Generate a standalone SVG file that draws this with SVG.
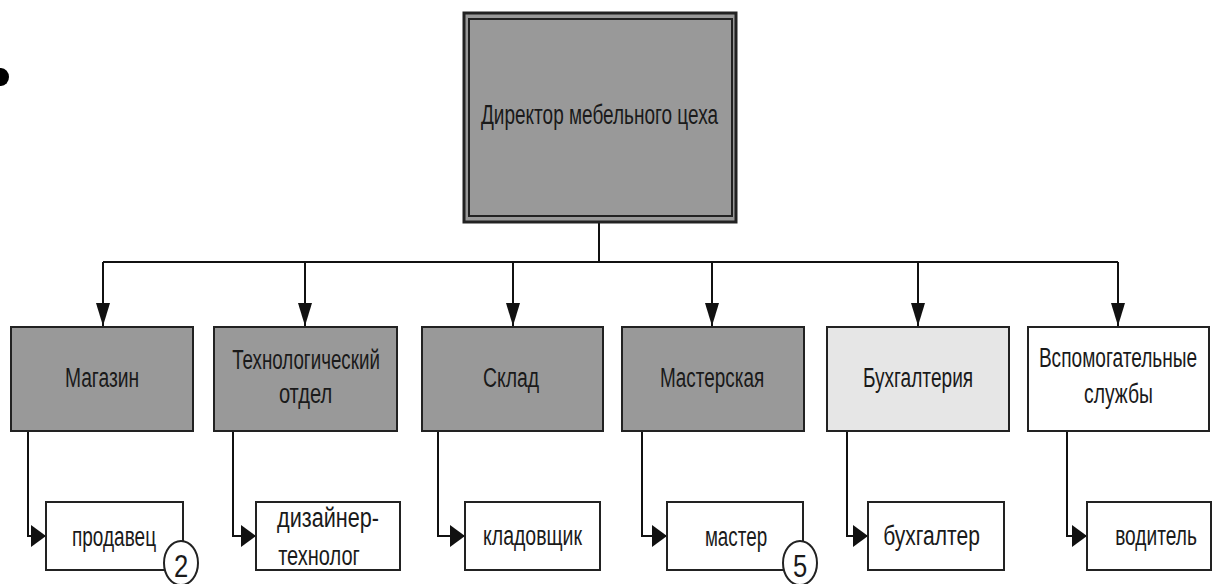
<svg xmlns="http://www.w3.org/2000/svg" width="1213" height="584" viewBox="0 0 1213 584">
<defs>
<style>
.dark{fill:#999999;stroke:#222;stroke-width:2}
.light{fill:#e6e6e6;stroke:#222;stroke-width:2}
.white{fill:#ffffff;stroke:#222;stroke-width:2}
.t{font-family:"Liberation Sans",Arial,sans-serif;font-size:27px;fill:#1a1a1a;text-anchor:middle}
.d{font-size:32px}
.ln{fill:none;stroke:#111;stroke-width:2}
</style>
<marker id="ad" markerUnits="userSpaceOnUse" viewBox="0 0 14 23" refX="7" refY="23" markerWidth="14" markerHeight="23" orient="0">
<path d="M0,0 L14,0 L7,23 Z" fill="#111"/>
</marker>
<marker id="ar" markerUnits="userSpaceOnUse" viewBox="0 0 15 22" refX="15" refY="11" markerWidth="15" markerHeight="22" orient="0">
<path d="M0,0 L15,11 L0,22 Z" fill="#111"/>
</marker>
</defs>
<rect width="1213" height="584" fill="#ffffff"/>
<ellipse cx="1" cy="77" rx="8" ry="9" fill="#000"/>

<g id="connectors">
<path class="ln" d="M599,222 V262"/>
<path class="ln" d="M103,262 H1118"/>
<path class="ln" d="M103,262 V326" marker-end="url(#ad)"/>
<path class="ln" d="M305,262 V326" marker-end="url(#ad)"/>
<path class="ln" d="M513,262 V326" marker-end="url(#ad)"/>
<path class="ln" d="M712,262 V326" marker-end="url(#ad)"/>
<path class="ln" d="M918,262 V326" marker-end="url(#ad)"/>
<path class="ln" d="M1118,262 V326" marker-end="url(#ad)"/>
<path class="ln" d="M28,431 V536 H46" marker-end="url(#ar)"/>
<path class="ln" d="M233,431 V536 H256" marker-end="url(#ar)"/>
<path class="ln" d="M438,431 V536 H465" marker-end="url(#ar)"/>
<path class="ln" d="M642,431 V536 H667" marker-end="url(#ar)"/>
<path class="ln" d="M847,431 V536 H868" marker-end="url(#ar)"/>
<path class="ln" d="M1067,431 V536 H1087" marker-end="url(#ar)"/>
</g>

<g id="director">
<rect x="464" y="13" width="272" height="209" fill="#999999" stroke="#222" stroke-width="3"/>
<rect x="469" y="19" width="263" height="197" fill="#999999" stroke="#222" stroke-width="2"/>
<text class="t" transform="translate(599.5,124) scale(0.75,1)" textLength="316" lengthAdjust="spacingAndGlyphs">Директор мебельного цеха</text>
</g>

<g id="magazin">
<rect class="dark" x="11" y="327" width="182" height="104"/>
<text class="t" transform="translate(102,387) scale(0.75,1)" textLength="99" lengthAdjust="spacingAndGlyphs">Магазин</text>
</g>
<g id="tech">
<rect class="dark" x="214" y="327" width="183" height="104"/>
<text class="t" transform="translate(306,369) scale(0.75,1)" textLength="197" lengthAdjust="spacingAndGlyphs">Технологический</text>
<text class="t" transform="translate(305.5,403) scale(0.75,1)" textLength="71" lengthAdjust="spacingAndGlyphs">отдел</text>
</g>
<g id="sklad">
<rect class="dark" x="422" y="327" width="181" height="104"/>
<text class="t" transform="translate(511,387) scale(0.75,1)" textLength="75" lengthAdjust="spacingAndGlyphs">Склад</text>
</g>
<g id="masterskaya">
<rect class="dark" x="622" y="327" width="182" height="104"/>
<text class="t" transform="translate(712,387) scale(0.75,1)" textLength="139" lengthAdjust="spacingAndGlyphs">Мастерская</text>
</g>
<g id="buh">
<rect class="light" x="827" y="327" width="182" height="104"/>
<text class="t" transform="translate(918,387) scale(0.75,1)" textLength="147" lengthAdjust="spacingAndGlyphs">Бухгалтерия</text>
</g>
<g id="vspom">
<rect class="white" x="1028" y="327" width="181" height="104"/>
<text class="t" transform="translate(1118,367) scale(0.75,1)" textLength="211" lengthAdjust="spacingAndGlyphs">Вспомогательные</text>
<text class="t" transform="translate(1118.5,403) scale(0.75,1)" textLength="92" lengthAdjust="spacingAndGlyphs">службы</text>
</g>

<g id="prodavec">
<rect class="white" x="46" y="502" width="137" height="68"/>
<text class="t" transform="translate(114,546) scale(0.75,1)" textLength="112" lengthAdjust="spacingAndGlyphs">продавец</text>
<ellipse cx="181" cy="563" rx="17" ry="22" fill="#ffffff" stroke="#222" stroke-width="2"/>
<text class="t d" transform="translate(181,577) scale(0.75,1)" textLength="19" lengthAdjust="spacingAndGlyphs">2</text>
</g>
<g id="dizayner">
<rect class="white" x="256" y="502" width="144" height="68"/>
<text class="t" transform="translate(328,527) scale(0.75,1)" textLength="136" lengthAdjust="spacingAndGlyphs">дизайнер-</text>
<text class="t" transform="translate(319,565) scale(0.75,1)" textLength="109" lengthAdjust="spacingAndGlyphs">технолог</text>
</g>
<g id="kladovshik">
<rect class="white" x="465" y="502" width="135" height="68"/>
<text class="t" transform="translate(532.5,545) scale(0.75,1)" textLength="132" lengthAdjust="spacingAndGlyphs">кладовщик</text>
</g>
<g id="master">
<rect class="white" x="667" y="502" width="136" height="68"/>
<text class="t" transform="translate(736,546) scale(0.75,1)" textLength="83" lengthAdjust="spacingAndGlyphs">мастер</text>
<ellipse cx="800" cy="563" rx="17" ry="22" fill="#ffffff" stroke="#222" stroke-width="2"/>
<text class="t d" transform="translate(800,577) scale(0.75,1)" textLength="19" lengthAdjust="spacingAndGlyphs">5</text>
</g>
<g id="buhgalter">
<rect class="white" x="868" y="502" width="136" height="68"/>
<text class="t" transform="translate(931.5,545) scale(0.75,1)" textLength="129" lengthAdjust="spacingAndGlyphs">бухгалтер</text>
</g>
<g id="voditel">
<rect class="white" x="1087" y="502" width="124" height="68"/>
<text class="t" transform="translate(1156,545) scale(0.75,1)" textLength="109" lengthAdjust="spacingAndGlyphs">водитель</text>
</g>
</svg>
